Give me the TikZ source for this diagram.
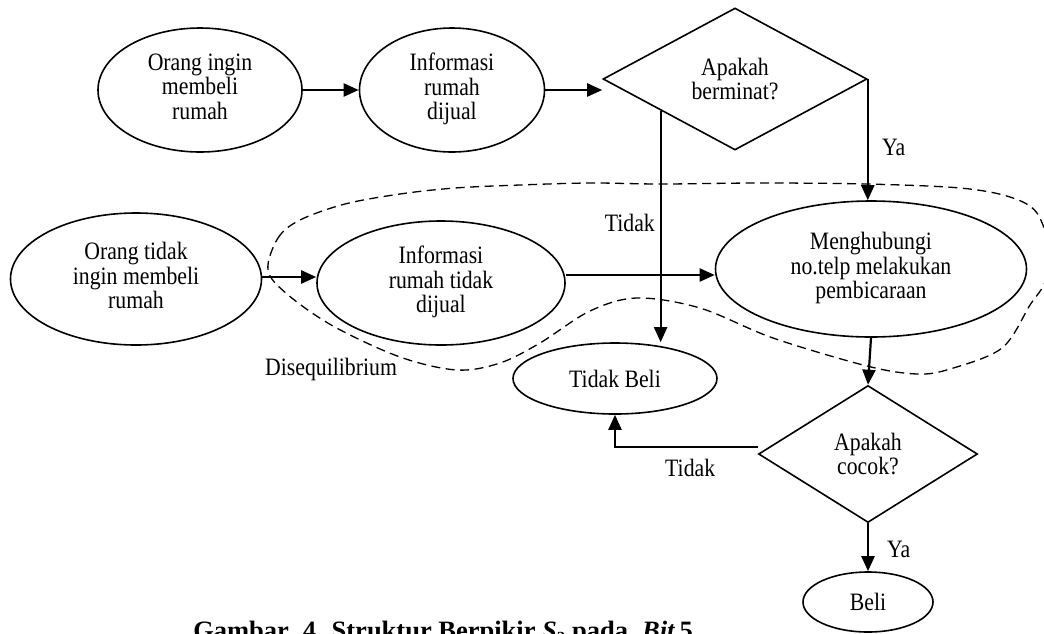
\documentclass[tikz,border=0pt]{standalone}
\usepackage{fontspec}
\setmainfont{Liberation Serif}[FakeStretch=0.87]
\newfontfamily\capfont{Liberation Serif}
\usetikzlibrary{shapes.geometric,arrows.meta,calc}

\begin{document}
\begin{tikzpicture}[x=1pt,y=-1pt,
  every node/.style={font=\fontsize{25}{24.5}\selectfont, align=center, inner sep=0pt},
  oval/.style={ellipse, draw, line width=1.6pt, fill=white},
  threeline/.style={text depth=7pt},
  decision/.style={diamond, draw, line width=1.6pt, fill=white},
  flow/.style={line width=2.2pt, -{Triangle[length=15pt,width=13pt]}},
  boundary/.style={line width=1.3pt, dash pattern=on 9pt off 5.5pt},
  caption/.style={font=\capfont\fontsize{26.5}{28}\selectfont\bfseries, anchor=base east}]
\useasboundingbox (0,0) rectangle (1044,633);

% dashed boundary around the disequilibrium part
\draw[boundary] plot[smooth cycle, tension=0.55] coordinates {
  (268,270) (278,238) (300,220) (345,204) (400,194) (455,188) (520,185)
  (590,183) (661,184) (760,183) (867,184) (960,188) (1010,197) (1037,213)
  (1049,250) (1045,282) (1030,305) (1002,348) (950,369) (917,374)
  (867,366) (773,338) (700,308) (637,298) (590,311) (540,343) (500,363)
  (457,370) (400,357) (333,326) (287,294)};

% nodes
\node[oval, threeline, minimum width=204pt, minimum height=124pt] (want) at (200,90)
  {Orang ingin\\membeli\\rumah};
\node[oval, threeline, minimum width=185pt, minimum height=124pt] (info) at (452,90)
  {Informasi\\rumah\\dijual};
\node[decision, minimum width=264pt, minimum height=142pt] (minat) at (735,79)
  {Apakah\\berminat?};
\node[oval, threeline, minimum width=251pt, minimum height=132pt] (nowant) at (136,279)
  {Orang tidak\\ingin membeli\\rumah};
\node[oval, threeline, minimum width=248pt, minimum height=124pt] (noinfo) at (441,283)
  {Informasi\\rumah tidak\\dijual};
\node[oval, threeline, minimum width=311pt, minimum height=136pt] (call) at (871,269)
  {Menghubungi\\no.telp melakukan\\pembicaraan};
\node[oval, minimum width=204pt, minimum height=71pt] (nobuy) at (615,378.5) {Tidak Beli};
\node[decision, minimum width=219pt, minimum height=137pt] (cocok) at (868,454)
  {Apakah\\cocok?};
\node[oval, minimum width=130pt, minimum height=60pt] (buy) at (868,602) {Beli};

% connectors
\draw[flow] (want.east) -- (info.west);
\draw[flow] (info.east) -- (minat.west |- info.east);
\coordinate (noStart) at ($(minat.west)!0.44!(minat.south)$);
\draw[flow] (noStart) -- (noStart |- nobuy.north);
\draw[flow] (minat.east) -- (minat.east |- call.north);
\draw[flow] (nowant.east |- 0,277) -- (noinfo.west |- 0,277);
\draw[flow] (noinfo.east |- 0,275) -- (call.west |- 0,275);
\draw[flow] (call.south) -- (cocok.north);
\draw[flow] ([yshift=7pt]cocok.west) -| (nobuy.south);
\draw[flow] (cocok.south) -- (buy.north);

% labels
\node[anchor=base east] (noLabelA) at (655,231) {Tidak};
\node[anchor=base west] (yesLabelA) at (882,155) {Ya};
\node[anchor=base west] (noLabelB) at (665,476) {Tidak};
\node[anchor=base west] (yesLabelB) at (887,557) {Ya};
\node[anchor=base west] (diseq) at (265,375) {Disequilibrium};

% caption
\node[caption] (cap) at (693,639)
  {Gambar\hspace{14pt}4. Struktur Berpikir \textit{S}\raisebox{-4pt}{\fontsize{17}{17}\selectfont 2} pada\hspace{14pt}\textit{Bit}\,5};
\end{tikzpicture}
\end{document}
